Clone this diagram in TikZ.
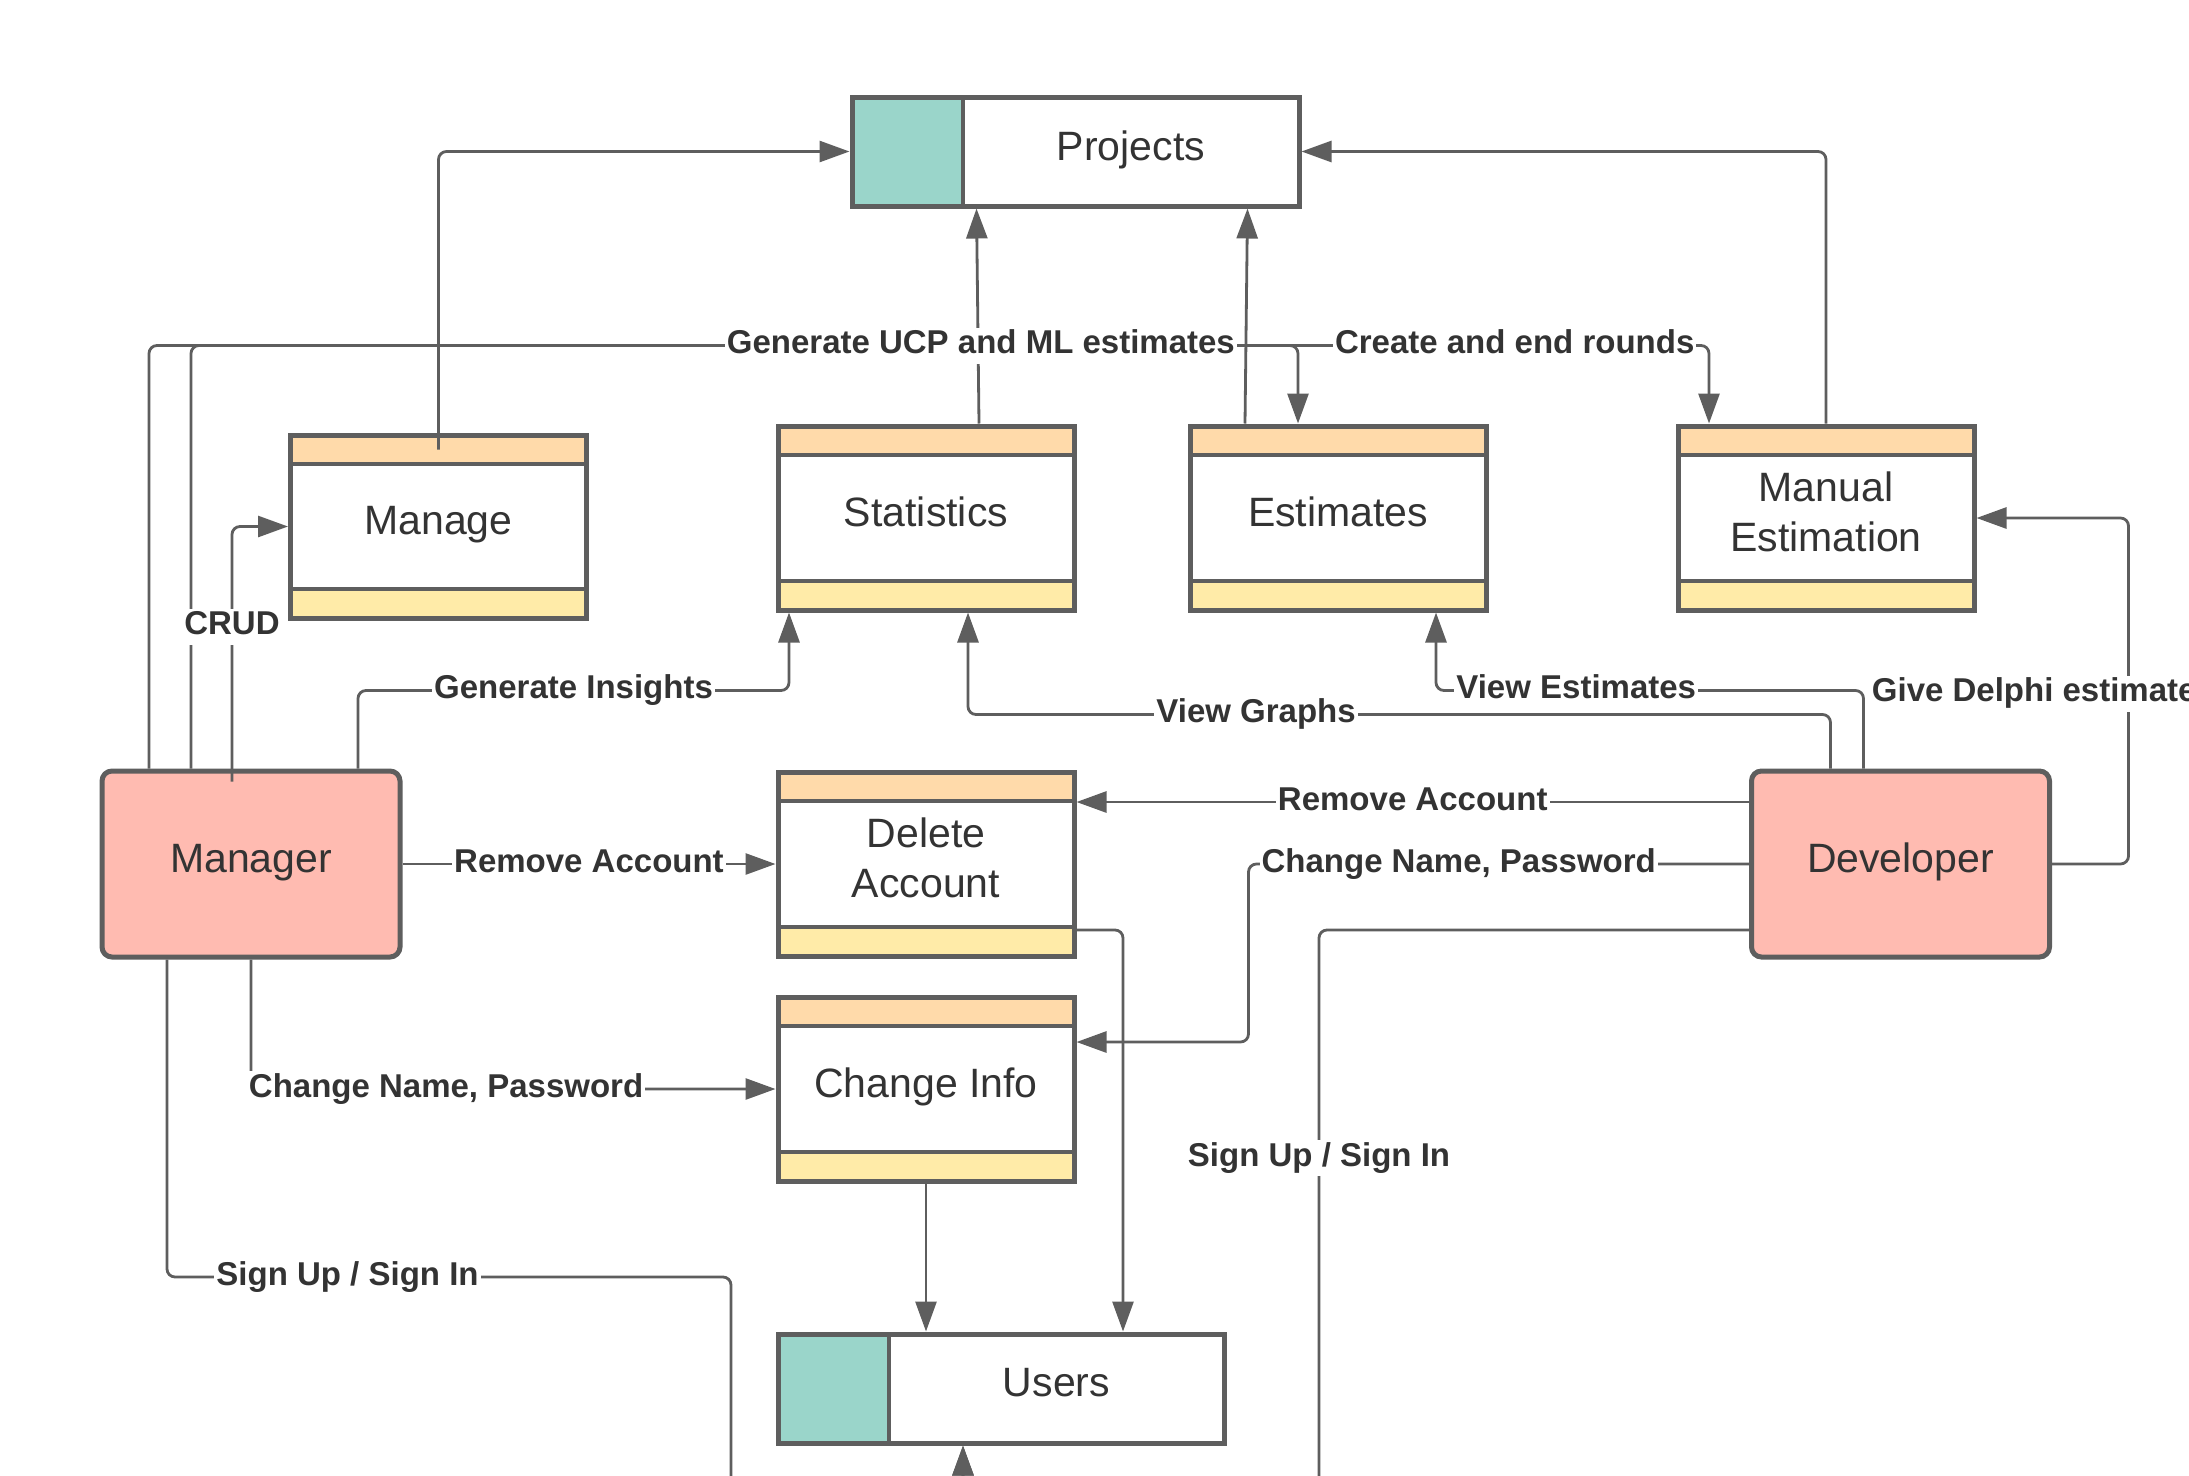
\documentclass[tikz,border=0pt]{standalone}
\usepackage{fontspec}
\setmainfont{Liberation Sans}
\usepackage{tikz}
\usetikzlibrary{arrows.meta}
\definecolor{linec}{RGB}{94,94,94}
\definecolor{txtc}{RGB}{51,51,51}
\definecolor{bandtop}{RGB}{255,218,170}
\definecolor{bandbot}{RGB}{255,235,168}
\definecolor{tealc}{RGB}{154,213,202}
\definecolor{pinkc}{RGB}{255,187,177}
\newcommand\txtdepth{\rule[-12pt]{0pt}{12pt}}

\begin{document}
\begin{tikzpicture}[x=1pt,y=-1pt,
  txt/.style={font=\fontsize{41}{50}\selectfont, text=txtc, align=center, execute at end node=\txtdepth},
  store/.style={txt, draw=linec, line width=5pt, fill=white, minimum width=296pt, minimum height=184pt, inner sep=0pt,
    path picture={
      \fill[bandtop] (path picture bounding box.north west) rectangle ([yshift=-29pt]path picture bounding box.north east);
      \fill[bandbot] (path picture bounding box.south west) rectangle ([yshift=29pt]path picture bounding box.south east);
      \draw[linec, line width=4.5pt] ([yshift=-29pt]path picture bounding box.north west) -- ([yshift=-29pt]path picture bounding box.north east);
      \draw[linec, line width=4.5pt] ([yshift=29pt]path picture bounding box.south west) -- ([yshift=29pt]path picture bounding box.south east);}},
  dstore/.style={txt, draw=linec, line width=5pt, fill=white, minimum width=446pt, minimum height=109pt, inner sep=0pt,
    path picture={
      \fill[tealc] (path picture bounding box.north west) rectangle ([xshift=111pt]path picture bounding box.south west);
      \draw[linec, line width=4.5pt] ([xshift=111pt]path picture bounding box.north west) -- ([xshift=111pt]path picture bounding box.south west);}},
  actor/.style={txt, draw=linec, line width=5pt, fill=pinkc, rounded corners=10pt, minimum width=298pt, minimum height=186pt},
  flow/.style={draw=linec, line width=2.8pt, rounded corners=8pt, -{Triangle[length=30pt,width=21pt]}},
  lbl/.style={fill=white, text=txtc, font=\bfseries\fontsize{33}{38}\selectfont, sharp corners, inner xsep=2pt, inner ysep=2pt, text height=24pt, text depth=8pt}]
\useasboundingbox (0,0) rectangle (2189,1475);
\clip (0,0) rectangle (2189,1475);

% stores and actors
\node[dstore, minimum width=447pt] (projects) at (1075.5,151.5) {\hspace*{111pt}Projects};
\node[store, minimum height=183pt] (manage) at (438.5,526.5) {Manage};
\node[store] (statistics) at (926,518) {Statistics};
\node[store] (estimates) at (1338,518) {Estimates};
\node[store] (manual) at (1826,518) {Manual\\Estimation};
\node[actor] (manager) at (251,864) {Manager};
\node[store] (delete) at (926,864) {Delete\\Account};
\node[actor] (developer) at (1900.5,864) {Developer};
\node[store] (changeinfo) at (926,1089) {Change Info};
\node[dstore] (users) at (1001,1388.5) {\hspace*{111pt}Users};
\coordinate (mgrsign) at (731,1277);
\coordinate (signbot) at (963,1530);
\coordinate (devsign) at (1319,1530);

% into projects
\draw[flow] ([yshift=-17pt]manage.north) |- (projects.west);
\draw[flow] ([xshift=53pt]statistics.north) -- ([xshift=127pt]projects.south west);
\draw[flow] ([xshift=-93pt]estimates.north) -- ([xshift=-54pt]projects.south east);
\draw[flow] (manual.north) |- (projects.east);

% manager
\draw[flow] ([xshift=-60pt]manager.north) |- node[lbl,pos=0.936]{Create and end rounds} ([xshift=-117pt,yshift=78pt]manual.north) -- ([xshift=-117pt]manual.north);
\draw[flow] ([xshift=-102pt]manager.north) |- node[lbl,pos=0.862]{Generate UCP and ML estimates} ([xshift=-40pt,yshift=78pt]estimates.north) -- ([xshift=-40pt]estimates.north);
\draw[flow] ([xshift=-19pt,yshift=-13pt]manager.north) |- node[lbl,pos=0.303]{CRUD} (manage.west);
\draw[flow] ([xshift=107pt]manager.north) |- node[lbl,pos=0.75]{Generate Insights} ([xshift=-137pt,yshift=-78pt]statistics.south) -- ([xshift=-137pt]statistics.south);
\draw[flow] (manager.east) -- node[lbl]{Remove Account} (delete.west);
\draw[flow] (manager.south) |- node[lbl,pos=0.686]{Change Name, Password} (changeinfo.west);
\draw[flow] ([xshift=-84pt]manager.south) |- node[lbl,pos=0.66]{Sign Up / Sign In} (mgrsign) |- (signbot) -- ([xshift=-38pt]users.south);

% into users
\draw[flow] ([yshift=-66pt]delete.east) -| ([xshift=122pt]users.north);
\draw[flow] (changeinfo.south) -- (changeinfo.south |- users.north);

% developer
\draw[flow] ([yshift=62pt]developer.west) -- node[lbl]{Remove Account} ([yshift=62pt]delete.east);
\draw[flow] (developer.west) -| node[lbl,pos=0.29]{Change Name, Password} ([xshift=172pt,yshift=47pt]changeinfo.east) -- ([yshift=47pt]changeinfo.east);
\draw[flow] ([yshift=-66pt]developer.west) -| node[lbl,pos=0.69]{Sign Up / Sign In} (devsign) -| ([xshift=-38pt]users.south);
\draw[flow] ([xshift=-70pt]developer.north) |- node[lbl,pos=0.833]{View Graphs} ([xshift=42pt,yshift=-102pt]statistics.south) -- ([xshift=42pt]statistics.south);
\draw[flow] ([xshift=-37pt]developer.north) |- node[lbl,pos=0.836]{View Estimates} ([xshift=98pt,yshift=-78pt]estimates.south) -- ([xshift=98pt]estimates.south);
\draw[flow] (developer.east) -| node[lbl,pos=0.746,anchor=west,xshift=-260pt]{Give Delphi estimate} ([xshift=152pt]manual.east) -- (manual.east);
\end{tikzpicture}
\end{document}
